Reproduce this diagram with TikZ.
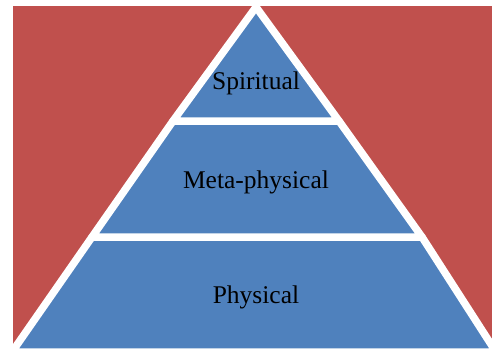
\documentclass[tikz,border=0pt]{standalone}
\usepackage{fontspec}
\setmainfont{Liberation Serif}
\usetikzlibrary{shadows}
\definecolor{bgred}{HTML}{C0504D}
\definecolor{tierblue}{HTML}{4F81BD}
\tikzset{
  tier/.style={fill=tierblue, draw=white, line width=7.5pt, line join=round,
    drop shadow={shadow xshift=0.8pt, shadow yshift=-2.5pt, opacity=0.35}},
  tierlabel/.style={font=\fontsize{25.5}{30}\selectfont, text=black, inner sep=0pt}
}
\begin{document}
\begin{tikzpicture}[x=1pt, y=-1pt]
\useasboundingbox (0,0) rectangle (492,360);
\clip (0,0) rectangle (492,360);
\fill[bgred] (13,6) rectangle (492,352);
% bottom tier
\draw[tier] (92,237) -- (422,237) -- (496,352) -- (12,352) -- cycle;
% middle tier
\draw[tier] (173,121) -- (339,121) -- (422,237) -- (92,237) -- cycle;
% top tier
\draw[tier] (256,7) -- (339,121) -- (173,121) -- cycle;
\node[tierlabel] (spiritual) at (256,83) {Spiritual};
\node[tierlabel] (meta) at (256,182) {Meta-physical};
\node[tierlabel] (physical) at (256,297) {Physical};
\end{tikzpicture}
\end{document}
